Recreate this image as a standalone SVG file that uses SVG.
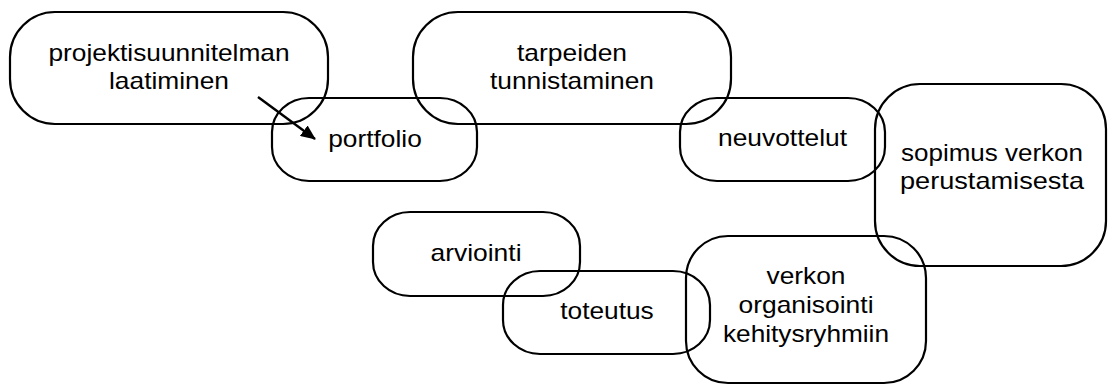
<svg xmlns="http://www.w3.org/2000/svg" width="1109" height="385" viewBox="0 0 1109 385">
<style>
.box{fill:none;stroke:#000;stroke-width:2.2}
.t{font-family:"Liberation Sans",Arial,sans-serif;font-size:24px;fill:#000;text-anchor:middle}
.c{stroke:#000;stroke-width:2.4;fill:none}
</style>
<defs>
<marker id="ah" markerWidth="15" markerHeight="13" refX="14" refY="6.5" orient="auto" markerUnits="userSpaceOnUse" viewBox="0 0 15 13">
<path d="M0,0 L15,6.5 L0,13 Z" fill="#000"/>
</marker>
</defs>
<rect width="1109" height="385" fill="#fff"/>
<g id="n1"><rect class="box" x="10" y="12" width="318" height="112" rx="45"/><text class="t" x="169" y="61" textLength="241" lengthAdjust="spacingAndGlyphs">projektisuunnitelman</text><text class="t" x="169" y="89" textLength="120" lengthAdjust="spacingAndGlyphs">laatiminen</text></g>
<g id="n2"><rect class="box" x="272" y="98" width="205" height="83" rx="37" ry="34"/><text class="t" x="375" y="147" textLength="93.5" lengthAdjust="spacingAndGlyphs">portfolio</text></g>
<g id="n3"><rect class="box" x="413" y="12" width="318" height="112" rx="45"/><text class="t" x="572" y="61" textLength="110" lengthAdjust="spacingAndGlyphs">tarpeiden</text><text class="t" x="572" y="89" textLength="164" lengthAdjust="spacingAndGlyphs">tunnistaminen</text></g>
<g id="n4"><rect class="box" x="680" y="98" width="205" height="83" rx="37" ry="34"/><text class="t" x="782.5" y="146" textLength="129" lengthAdjust="spacingAndGlyphs">neuvottelut</text></g>
<g id="n5"><rect class="box" x="875" y="84" width="231" height="182" rx="45"/><text class="t" x="992" y="161" textLength="182" lengthAdjust="spacingAndGlyphs">sopimus verkon</text><text class="t" x="992" y="189" textLength="184" lengthAdjust="spacingAndGlyphs">perustamisesta</text></g>
<g id="n6"><rect class="box" x="373" y="212" width="207" height="84" rx="37" ry="34"/><text class="t" x="476" y="261" textLength="91" lengthAdjust="spacingAndGlyphs">arviointi</text></g>
<g id="n7"><rect class="box" x="503" y="271" width="207" height="83" rx="37" ry="34"/><text class="t" x="607" y="319" textLength="93.5" lengthAdjust="spacingAndGlyphs">toteutus</text></g>
<g id="n8"><rect class="box" x="686" y="236" width="240" height="147" rx="42"/><text class="t" x="806" y="284" textLength="79" lengthAdjust="spacingAndGlyphs">verkon</text><text class="t" x="806" y="313" textLength="135" lengthAdjust="spacingAndGlyphs">organisointi</text><text class="t" x="806" y="342" textLength="166" lengthAdjust="spacingAndGlyphs">kehitysryhmiin</text></g>
<g id="connectors"><line class="c" x1="258" y1="97" x2="315" y2="139" marker-end="url(#ah)"/></g>
</svg>
